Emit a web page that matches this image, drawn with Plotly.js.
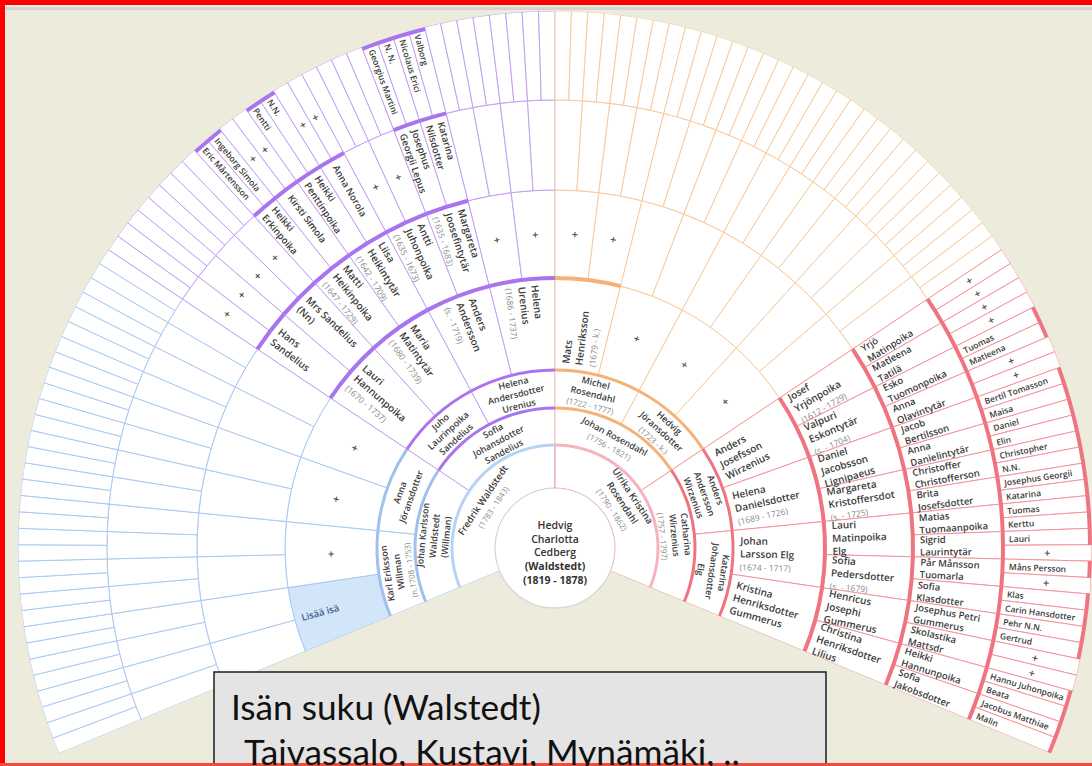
<!DOCTYPE html>
<html><head><meta charset="utf-8">
<script src="https://cdn.plot.ly/plotly-3.0.1.min.js"></script>
<style>html,body{margin:0;padding:0;background:#ecebdc;}#chart{width:1092px;height:766px;}</style>
</head><body><div id="chart"></div>
<script>
// ---------------- data ----------------
const rootLines = ["Hedvig", "Charlotta", "Cedberg"];
const rootExtra = ["(Waldstedt)", "(1819 - 1878)"];

// [index in generation (0 = father's father's ... line), name, dates]
const gen1People = [[0, "Fredrik Waldstedt", "(1783 - 1843)"], [1, "Ulrika Kristina\nRosendahl", "(1790 - 1862)"]];
const gen2People = [[0, "Johan Karlsson\nWaldstedt\n(Willman)", ""], [1, "Sofia\nJohansdotter\nSandelius", ""],
  [2, "Johan Rosendahl", "(1756 - 1821)"], [3, "Catharina\nWirzenius", "(1757 - 1797)"]];
const gen3People = [[0, "Karl Eriksson\nWillman", "(n.1708 - 1753)"], [1, "Anna\nJöransdotter", ""],
  [2, "Juho\nLaurinpoika\nSandelius", ""], [3, "Helena\nAndersdotter\nUrenius", ""],
  [4, "Michel\nRosendahl", "(1722 - 1777)"], [5, "Hedvig\nJöransdotter", "(1723 - k.)"],
  [6, "Anders\nAndersson\nWirzenius", ""], [7, "Katarina\nJohansdotter\nElg", ""]];
const gen4People = [[1, "+", ""], [2, "+", ""], [3, "+", ""],
  [4, "Lauri\nHannunpoika", "(1670 - 1737)"], [5, "Maria\nMatintytär", "(1680 - 1739)"],
  [6, "Anders\nAndersson", "(s. - 1719)"], [7, "Helena\nUrenius", "(1686 - 1737)"],
  [8, "Mats\nHenriksson", "(1679 - k.)"], [9, "+", ""], [10, "+", ""], [11, "+", ""],
  [12, "Anders\nJosefsson\nWirzenius", ""], [13, "Helena\nDanielsdotter", "(1689 - 1726)"],
  [14, "Johan\nLarsson Elg", "(1674 - 1717)"], [15, "Kristina\nHenriksdotter\nGummerus", ""]];
const gen5People = [[8, "Hans\nSandelius", ""], [9, "Mrs Sandelius\n(Nn)", ""],
  [10, "Matti\nHeikinpoika", "(1647 - 1729)"], [11, "Liisa\nHeikintytär", "(1642 - 1709)"],
  [12, "Antti\nJuhonpoika", "(1635 - 1673)"], [13, "Margareta\nJoosefintytär", "(1635 - 1683)"],
  [14, "+", ""], [15, "+", ""], [16, "+", ""], [17, "+", ""],
  [24, "Josef\nYrjönpoika", "(1612 - 1729)"], [25, "Valpuri\nEskontytär", "(s. - 1704)"],
  [26, "Daniel\nJacobsson\nLignipaeus", ""], [27, "Margareta\nKristoffersdot", "(s. - 1725)"],
  [28, "Lauri\nMatinpoika\nElg", ""], [29, "Sofia\nPedersdotter", "(s. - 1679)"],
  [30, "Henricus\nJosephi\nGummerus", ""], [31, "Christina\nHenriksdotter\nLilius", ""]];
const gen6People = [[16, "+", ""], [17, "+", ""], [18, "+", ""], [19, "+", ""],
  [20, "Heikki\nErkinpoika", ""], [21, "Kirsti Simola", ""], [22, "Heikki\nPenttinpoika", ""],
  [23, "Anna Norola", ""], [24, "+", ""], [25, "+", ""], [26, "Josephus\nGeorgii Lepus", ""],
  [27, "Katarina\nNilsdotter", ""],
  [48, "Yrjö\nMatinpoika", ""], [49, "Matleena\nTatilä", ""], [50, "Esko\nTuomonpoika", ""],
  [51, "Anna\nOlavintytär", ""], [52, "Jacob\nBertilsson", ""], [53, "Anna\nDanielintytär", ""],
  [54, "Christoffer\nChristofferson", ""], [55, "Brita\nJosefsdotter", ""],
  [56, "Matias\nTuomaanpoika", ""], [57, "Sigrid\nLaurintytär", ""], [58, "Pår Månsson\nTuomarla", ""],
  [59, "Sofia\nKlasdotter", ""], [60, "Josephus Petri\nGummerus", ""], [61, "Skolastika\nMattsdr", ""],
  [62, "Heikki\nHannunpoika", ""], [63, "Sofia\nJakobsdotter", ""]];
const gen7People = [[40, "Eric Mårtensson", ""], [41, "Ingeborg Simola", ""], [42, "+", ""], [43, "+", ""],
  [44, "Pentti", ""], [45, "N.N.", ""], [46, "+", ""], [47, "+", ""],
  [52, "Georgius Martini", ""], [53, "N. N.", ""], [54, "Nicolaus Erici", ""], [55, "Valborg", ""],
  [96, "+", ""], [97, "+", ""], [98, "+", ""], [99, "+", ""], [100, "Tuomas", ""], [101, "Matleena", ""],
  [102, "+", ""], [103, "+", ""], [104, "Bertil Tomasson", ""], [105, "Maisa", ""], [106, "Daniel", ""],
  [107, "Elin", ""], [108, "Christopher", ""], [109, "N.N.", ""], [110, "Josephus Georgii", ""],
  [111, "Katarina", ""], [112, "Tuomas", ""], [113, "Kerttu", ""], [114, "Lauri", ""], [115, "+", ""],
  [116, "Måns Persson", ""], [117, "+", ""], [118, "Klas", ""], [119, "Carin Hansdotter", ""],
  [120, "Pehr N.N.", ""], [121, "Gertrud", ""], [122, "+", ""], [123, "+", ""],
  [124, "Hannu Juhonpoika", ""], [125, "Beata", ""], [126, "Jacobus Matthiae", ""], [127, "Malin", ""]];
// [generation, index, label]
const addButtons = [[4, 0, "Lisää isä"]];
const boxLines = ["Isän suku (Walstedt)", "Taivassalo, Kustavi, Mynämäki, .."];

// ---------------- geometry & style ----------------
const W = 1092, H = 766, CX = 555, CY = 548;
const EDGES = [60, 103, 140, 178, 270, 358, 448, 537];
const R = EDGES[7];
const SECTOR = [-22.5, 202.5];
const SPAN = SECTOR[1] - SECTOR[0];
const YMIN = -R * Math.sin(22.5 * Math.PI / 180);
const dom = {x: [(CX - R) / W, (CX + R) / W], y: [(H - (CY - YMIN)) / H, (H - (CY - R)) / H]};

const THIN = ['#abc9f0', '#c3a0f4', '#f8cb9e', '#f3959c'];
const THICK = ['#9ec1ee', '#a874ef', '#f5b176', '#f07480'];
const GEN1_THICK = ['#b6d3f5', '#f5b4bd'];
const ADD_FILL = '#d3e5f8';
const NAME_SIZE = [0, 9.5, 9, 9, 10, 10, 9.5, 8.5];
const DATE_SIZE = [0, 8, 8, 8, 8.5, 8.5, 8, 8];
const PAD = [0, 0, 0, 0, 7, 7, 7, 6];
const FONT = 'Open Sans';
const NAME_COLOR = '#3b3b3b', DATE_COLOR = '#8a8a8a';

const genPeople = [null, gen1People, gen2People, gen3People, gen4People, gen5People, gen6People, gen7People];

function quad(g, i) { return g === 1 ? (i === 0 ? 0 : 3) : Math.floor(i / Math.pow(2, g - 2)); }
function cellTheta(g, i) { return SECTOR[1] - (i + 0.5) * SPAN / Math.pow(2, g); }
function isAdd(g, i) { return addButtons.some(a => a[0] === g && a[1] === i); }

const ctx = document.createElement('canvas').getContext('2d');
function tw(s, size, weight) { ctx.font = weight + ' ' + size + 'px "' + FONT + '"'; return ctx.measureText(s).width; }
function esc(s) { return s.replace(/&/g, '&amp;').replace(/</g, '&lt;'); }
function xy(r, th) { const a = th * Math.PI / 180; return [r * Math.cos(a), r * Math.sin(a)]; }

const data = [];
// center person circle
data.push({type: 'scatter', x: [0], y: [0], mode: 'markers', hoverinfo: 'skip', showlegend: false,
  marker: {size: EDGES[0] * 2, color: '#ffffff', line: {color: '#d9d9d9', width: 1.5}}});

// cells per generation
for (let g = 1; g <= 7; g++) {
  const n = Math.pow(2, g), w = SPAN / n;
  const theta = [], width = [], base = [], r = [], fill = [], line = [];
  for (let i = 0; i < n; i++) {
    theta.push(cellTheta(g, i)); width.push(w); base.push(EDGES[g - 1]); r.push(EDGES[g] - EDGES[g - 1]);
    fill.push(isAdd(g, i) ? ADD_FILL : '#ffffff');
    line.push(THIN[quad(g, i)]);
  }
  data.push({type: 'barpolar', theta, width, base, r, hoverinfo: 'skip', showlegend: false,
    marker: {color: fill, line: {color: line, width: 1}}});
}

// thick arcs at the outer edge of known persons
{
  const theta = [], width = [], base = [], r = [], col = [];
  for (let g = 1; g <= 7; g++) {
    const w = SPAN / Math.pow(2, g);
    const t = g <= 3 ? 3 : 4;
    genPeople[g].forEach(p => {
      if (p[1] === '+') return;
      theta.push(cellTheta(g, p[0])); width.push(w);
      base.push(g === 7 ? EDGES[g] - t : EDGES[g] - t / 2); r.push(t);
      col.push(g === 1 ? GEN1_THICK[p[0]] : THICK[quad(g, p[0])]);
    });
  }
  data.push({type: 'barpolar', theta, width, base, r, hoverinfo: 'skip', showlegend: false,
    marker: {color: col, line: {width: 0}}});
}

// ---------------- labels ----------------
const annotations = [];
function radialAngle(th) { return th < 90 ? -th : 180 - th; }

for (let g = 1; g <= 7; g++) {
  const rIn = EDGES[g - 1], rOut = EDGES[g], rMid = (rIn + rOut) / 2;
  genPeople[g].forEach(p => {
    const th = cellTheta(g, p[0]);
    if (p[1] === '+') {
      const [x, y] = xy(rMid, th);
      annotations.push({x, y, xref: 'x', yref: 'y', text: '+', showarrow: false, xanchor: 'center', yanchor: 'middle',
        textangle: radialAngle(th), font: {family: FONT, size: 11, color: '#4a4a4a', weight: 600}, borderpad: 0});
      return;
    }
    const lines = p[1].split('\n');
    let text = lines.map(esc).join('<br>');
    if (p[2]) text += '<br><span style="font-size:' + DATE_SIZE[g] + 'px;color:' + DATE_COLOR + ';font-weight:400">' + esc(p[2]) + '</span>';
    let r = rMid, angle, align;
    if (g <= 3) {
      angle = 90 - th; align = 'center';
    } else {
      angle = radialAngle(th); align = 'left';
      let w = Math.max.apply(null, lines.map(s => tw(s, NAME_SIZE[g], 600)));
      if (p[2]) w = Math.max(w, tw(p[2], DATE_SIZE[g], 400));
      const room = rOut - rIn - 2 * PAD[g];
      if (w < room) r = th < 90 ? rIn + PAD[g] + w / 2 : rOut - PAD[g] - w / 2;
    }
    const [x, y] = xy(r, th);
    annotations.push({x, y, xref: 'x', yref: 'y', text, showarrow: false, xanchor: 'center', yanchor: 'middle',
      textangle: angle, align, font: {family: FONT, size: NAME_SIZE[g], color: NAME_COLOR, weight: 600}, borderpad: 0});
  });
}
addButtons.forEach(a => {
  const g = a[0], th = cellTheta(g, a[1]);
  const w = tw(a[2], 9.5, 600);
  const [x, y] = xy(EDGES[g] - PAD[g] - w / 2, th);
  annotations.push({x, y, xref: 'x', yref: 'y', text: a[2], showarrow: false, xanchor: 'center', yanchor: 'middle',
    textangle: radialAngle(th), font: {family: FONT, size: 9.5, color: '#3d5f88', weight: 600}, borderpad: 0});
});
// root person
annotations.push({x: 0, y: -4, xref: 'x', yref: 'y', showarrow: false, xanchor: 'center', yanchor: 'middle', align: 'center',
  text: rootLines.map(esc).join('<br>') + '<br><b>' + rootExtra.map(esc).join('</b><br><b>') + '</b>',
  font: {family: FONT, size: 10.5, color: '#333333', weight: 600}, borderpad: 0});

// bottom caption box
const boxSize = 36;
ctx.font = boxSize + 'px Lato';
const capSize = boxSize * 310 / ctx.measureText(boxLines[0]).width;
annotations.push({x: 230 / W, y: 1 - 706 / H, xref: 'paper', yref: 'paper', text: esc(boxLines[0]), showarrow: false,
  xanchor: 'left', yanchor: 'middle', font: {family: 'Lato', size: capSize, color: '#111111'}, borderpad: 0});
annotations.push({x: 243 / W, y: 1 - 751 / H, xref: 'paper', yref: 'paper', text: esc(boxLines[1]), showarrow: false,
  xanchor: 'left', yanchor: 'middle', font: {family: 'Lato', size: capSize, color: '#111111'}, borderpad: 0});

const px = v => v / W, py = v => 1 - v / H;
const shapes = [
  {type: 'rect', xref: 'paper', yref: 'paper', x0: px(214), x1: px(826), y0: py(790), y1: py(672),
    fillcolor: '#e4e4e4', line: {color: '#1e1e1e', width: 1.5}, layer: 'above'},
  {type: 'rect', xref: 'paper', yref: 'paper', x0: 0, x1: 1, y0: py(10), y1: py(7), fillcolor: '#d4d4d0', line: {width: 0}, layer: 'below'},
  {type: 'rect', xref: 'paper', yref: 'paper', x0: 0, x1: 1, y0: py(5), y1: 1, fillcolor: '#ff0000', line: {width: 0}, layer: 'above'},
  {type: 'rect', xref: 'paper', yref: 'paper', x0: 0, x1: px(5), y0: 0, y1: 1, fillcolor: '#ff0000', line: {width: 0}, layer: 'above'},
  {type: 'rect', xref: 'paper', yref: 'paper', x0: 0, x1: 1, y0: 0, y1: py(763), fillcolor: '#f24a3c', line: {width: 0}, layer: 'above'}
];

const layout = {
  width: W, height: H, margin: {l: 0, r: 0, t: 0, b: 0},
  paper_bgcolor: '#ecebdc', plot_bgcolor: 'rgba(0,0,0,0)', showlegend: false,
  polar: {
    domain: dom, sector: SECTOR, hole: EDGES[0] / R, bgcolor: 'rgba(0,0,0,0)', bargap: 0,
    radialaxis: {visible: false, range: [EDGES[0], R], autorange: false, showgrid: false, showline: false, showticklabels: false, ticks: ''},
    angularaxis: {visible: false, rotation: 0, direction: 'counterclockwise', showgrid: false, showline: false, showticklabels: false, ticks: ''}
  },
  xaxis: {domain: dom.x, range: [-R, R], visible: false, fixedrange: true},
  yaxis: {domain: dom.y, range: [YMIN, R], visible: false, fixedrange: true},
  shapes, annotations
};

Plotly.newPlot('chart', data, layout, {staticPlot: true, displayModeBar: false});
</script></body></html>
